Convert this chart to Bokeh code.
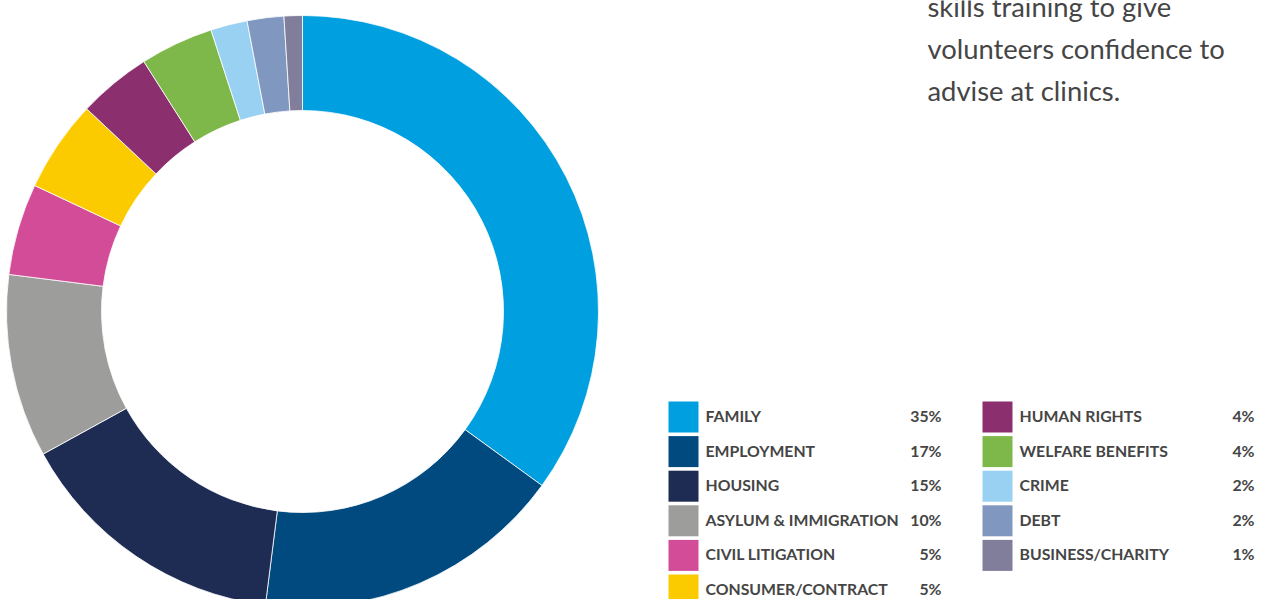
import numpy as np
from bokeh.plotting import figure
from bokeh.models import Range1d, ColumnDataSource
from bokeh.core.properties import value
from bokeh.embed import file_html
from bokeh.resources import INLINE

categories = ["FAMILY", "EMPLOYMENT", "HOUSING", "ASYLUM & IMMIGRATION", "CIVIL LITIGATION",
              "CONSUMER/CONTRACT", "HUMAN RIGHTS", "WELFARE BENEFITS", "CRIME", "DEBT",
              "BUSINESS/CHARITY"]
percent = [35, 17, 15, 10, 5, 5, 4, 4, 2, 2, 1]
colors = ["#009FDF", "#004A80", "#1E2B52", "#9D9D9C", "#D24C97", "#FBCB00",
          "#8B2F6E", "#7FB84A", "#99D1F2", "#8097BF", "#817E9B"]
paragraph = ["skills training to give", "volunteers confidence to", "advise at clinics."]

W, H = 1263, 599
p = figure(width=W, height=H, x_range=Range1d(0, W), y_range=Range1d(0, H),
           output_backend="svg", toolbar_location=None, min_border=0)
p.axis.visible = False
p.grid.visible = False
p.outline_line_color = None
p.background_fill_color = "white"
p.border_fill_color = "white"

def Y(page_y):
    return H - page_y

# donut
vals = np.array(percent, dtype=float)
frac = vals / vals.sum()
cum = np.concatenate([[0], np.cumsum(frac)])
start = np.pi / 2 - 2 * np.pi * cum[:-1]
end = np.pi / 2 - 2 * np.pi * cum[1:]
src = ColumnDataSource(dict(start=start, end=end, color=colors))
cx, cy = 302, Y(311)
p.annular_wedge(x=cx, y=cy, inner_radius=201, outer_radius=296, start_angle="start",
                end_angle="end", direction="clock", fill_color="color", line_color="white",
                line_width=0.8, source=src)

# legend
n_left = 6
row_h = 34.6
lx, rx = [668, 982], [941, 1254]
sq_l, sq_r, lab_x, pct_x, mid_y = [], [], [], [], []
for i, c in enumerate(categories):
    col = 0 if i < n_left else 1
    r = i if i < n_left else i - n_left
    sq_l.append(lx[col])
    sq_r.append(lx[col] + 30)
    lab_x.append(lx[col] + 37)
    pct_x.append(rx[col])
    mid_y.append(Y(416.5 + r * row_h))
mid_y = np.array(mid_y)
lsrc = ColumnDataSource(dict(left=sq_l, right=sq_r, top=mid_y + 15.5, bottom=mid_y - 15.5,
                             color=colors, lx=lab_x, px=pct_x, y=mid_y + 1.5, name=categories,
                             pct=[f"{v}%" for v in percent]))
p.quad(left="left", right="right", top="top", bottom="bottom", fill_color="color",
       line_color=None, source=lsrc)
p.text(x="lx", y="y", text="name", source=lsrc, text_font=value("Lato"),
       text_font_style="bold", text_font_size="15.8px", text_color="#454545",
       text_baseline="middle", text_align="left")
p.text(x="px", y="y", text="pct", source=lsrc, text_font=value("Lato"),
       text_font_style="bold", text_font_size="15.8px", text_color="#454545",
       text_baseline="middle", text_align="right")

# paragraph text
base_y = [Y(6), Y(48), Y(90)]
p.text(x=[927] * 3, y=base_y, text=paragraph, text_font=value("Lato"),
       text_font_size="27.4px", text_color="#454545", text_baseline="alphabetic",
       text_align="left")

open("out.html", "w").write(file_html(p, INLINE))
